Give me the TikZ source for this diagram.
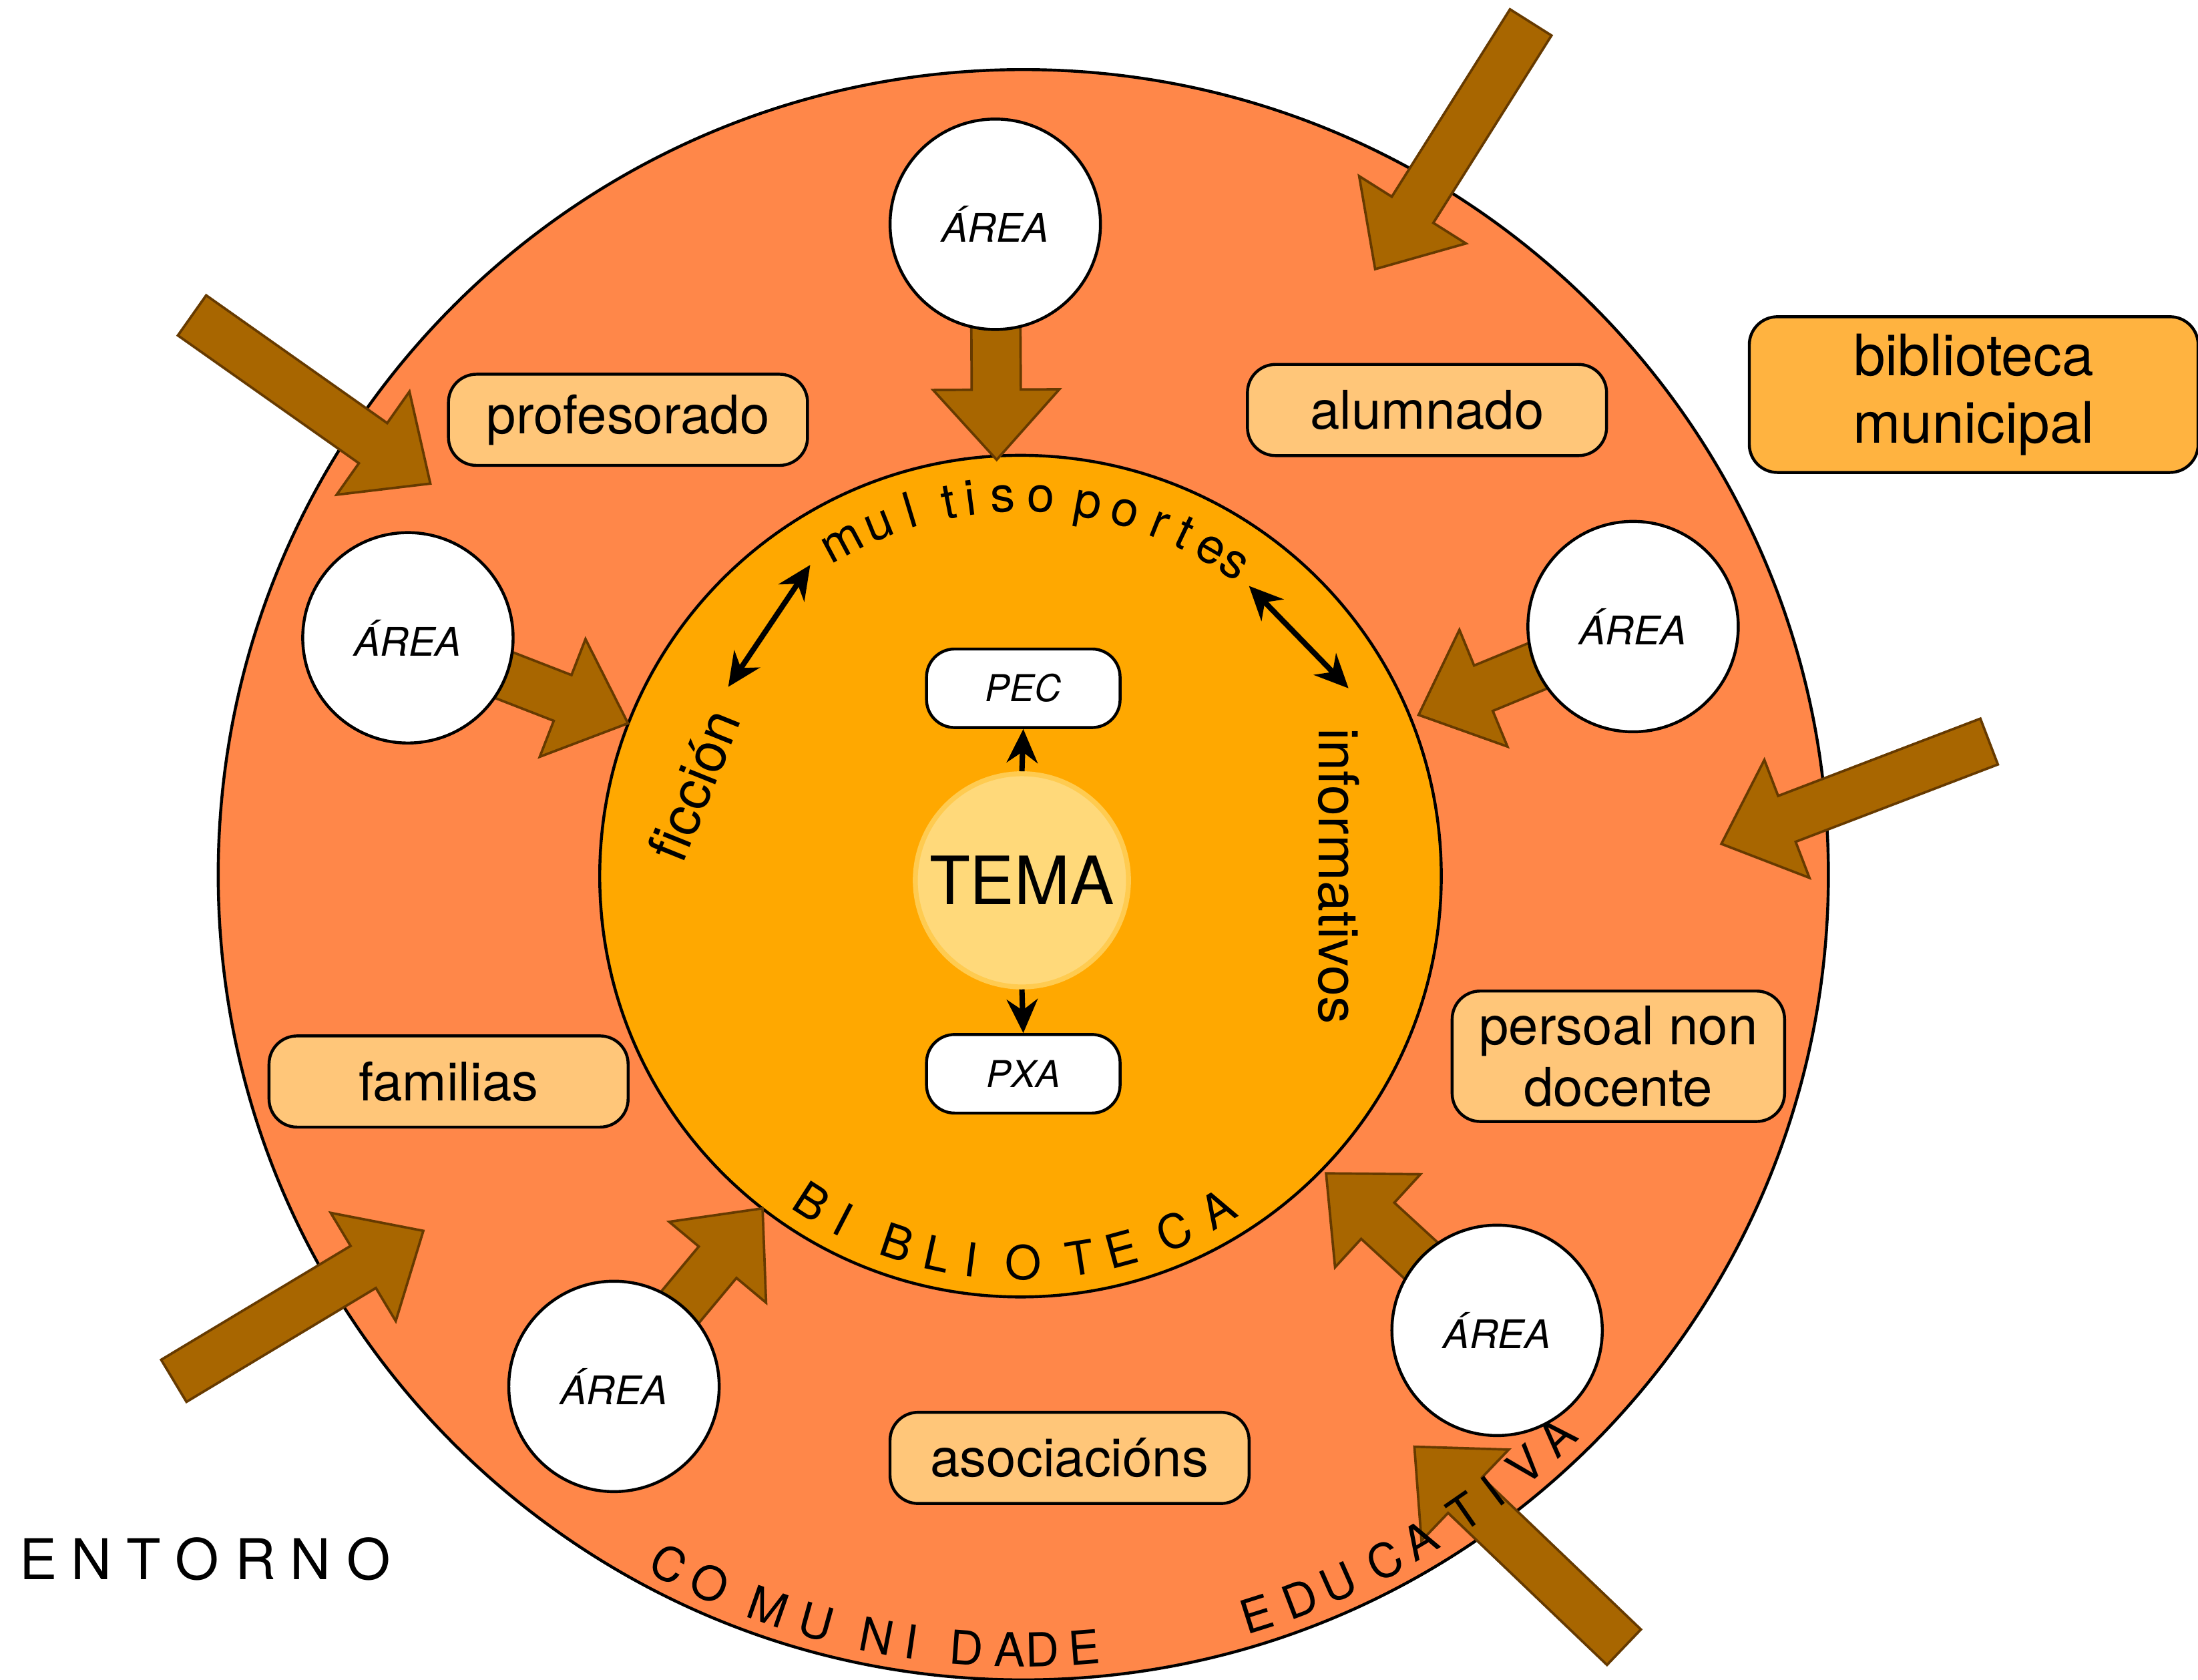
\documentclass[tikz,border=0pt]{standalone}
\usepackage{fontspec}
\setmainfont{TeX Gyre Heros}
\usetikzlibrary{calc,arrows.meta}

\definecolor{comunidadecor}{HTML}{FF8749}
\definecolor{bibliocor}{HTML}{FFA800}
\definecolor{temacor}{HTML}{FFD97A}
\definecolor{temaborde}{HTML}{FFCB50}
\definecolor{caixacor}{HTML}{FFC679}
\definecolor{municipalcor}{HTML}{FFB340}
\definecolor{frechacor}{HTML}{A86600}
\definecolor{frechaborde}{HTML}{663A00}

\pgfdeclarelayer{fondo}
\pgfdeclarelayer{frechas}
\pgfsetlayers{fondo,frechas,main}

% frecha grosa: #1 cola, #2 punta
\newcommand{\frecha}[2]{%
  \coordinate (fb) at ($(#2)!0.5cm!(#1)$);
  \draw[bloque] ($(#1)!0.175cm!90:(#2)$) -- ($(fb)!0.175cm!-90:(#1)$)
    -- ($(fb)!0.45cm!-90:(#1)$) -- (#2) -- ($(fb)!0.45cm!90:(#1)$)
    -- ($(fb)!0.175cm!90:(#1)$) -- ($(#1)!0.175cm!-90:(#2)$) -- cycle;
}

\begin{document}
\begin{tikzpicture}[x=0.01cm,y=0.01cm]
\tikzstyle{every node}=[inner sep=1pt]
\tikzstyle{area}=[circle, draw, line width=0.6pt, fill=white, minimum size=1.5cm, inner sep=0pt, font=\fontsize{8}{9}\selectfont\itshape]
\tikzstyle{axente}=[rectangle, rounded corners=0.2cm, draw, line width=0.6pt, fill=caixacor, minimum width=2.56cm, minimum height=0.65cm, align=center, font=\fontsize{10.8}{12.5}\selectfont]
\tikzstyle{documento}=[rectangle, rounded corners=0.2cm, draw, line width=0.6pt, fill=white, minimum width=1.38cm, minimum height=0.56cm, font=\fontsize{7.5}{9}\selectfont\itshape]
\tikzstyle{letra}=[inner sep=0pt, anchor=base, font=\fontsize{9.5}{10}\selectfont]
\tikzstyle{minuscula}=[inner sep=0pt, anchor=base, font=\fontsize{10}{11}\selectfont]
\tikzstyle{xenero}=[inner sep=0pt, font=\fontsize{11.2}{12}\selectfont]
\tikzstyle{bloque}=[fill=frechacor, draw=frechaborde, line width=0.5pt]
\tikzstyle{dobre}=[line width=1.1pt, {Stealth[length=2.4mm,width=2.2mm]}-{Stealth[length=2.4mm,width=2.2mm]}]
\tikzstyle{simple}=[line width=1.1pt, -{Stealth[length=2.4mm,width=2.2mm]}]
\useasboundingbox (0,0) rectangle (1568,1198);

\begin{pgfonlayer}{fondo}
\node (comunidade) at (730,574) [circle, draw, line width=0.6pt, fill=comunidadecor, minimum size=11.48cm, inner sep=0pt] {};
\node (biblioteca) at (728,573) [circle, draw, line width=0.6pt, fill=bibliocor, minimum size=6cm, inner sep=0pt] {};
\end{pgfonlayer}

\node (tema) at (729,570) [circle, draw=temaborde, line width=1pt, fill=temacor, minimum size=1.52cm, inner sep=0pt, font=\fontsize{13.5}{15}\selectfont] {TEMA};
\node (pec) at (730,707) [documento] {PEC};
\node (pxa) at (730,432) [documento] {PXA};
\draw[simple] (tema.north) -- (pec.south);
\draw[simple] (tema.south) -- (pxa.north);

\node (areaN) at (710,1038) [area] {ÁREA};
\node (areaO) at (291,743) [area] {ÁREA};
\node (areaL) at (1165,751) [area] {ÁREA};
\node (areaSO) at (438,209) [area] {ÁREA};
\node (areaSL) at (1068,249) [area] {ÁREA};

\node (profesorado) at (448,898.5) [axente] {profesorado};
\node (alumnado) at (1018,905.5) [axente] {alumnado};
\node (familias) at (320,426.5) [axente] {familias};
\node (asociacions) at (763,158) [axente] {asociacións};
\node (persoal) at (1154.5,444.5) [axente, minimum width=2.37cm, minimum height=0.93cm] {persoal non\\docente};
\node (municipal) at (1408,916.5) [axente, fill=municipalcor, minimum width=3.2cm, minimum height=1.11cm, font=\fontsize{11.6}{13.7}\selectfont] {biblioteca\\municipal};

\node (ficcion) at (495,638) [xenero, rotate=68] {ficción};
\node (informativos) at (955,573) [xenero, rotate=-90] {informativos};

\coordinate (fic) at (519.5,708);
\coordinate (mul1) at (578,795);
\coordinate (mul2) at (891,780);
\coordinate (inf) at (962,707);
\draw[dobre] (fic) -- (mul1);
\draw[dobre] (mul2) -- (inf);

\begin{scope}[shift={(728,573)}]
\draw (118.1:260) node (mu1) [minuscula, rotate=28.1] {m};
\draw (111.9:260) node (mu2) [minuscula, rotate=21.9] {u};
\draw (106.8:260) node (mu3) [minuscula, rotate=16.8] {l};
\draw (100.9:260) node (mu4) [minuscula, rotate=10.9] {t};
\draw (97.6:260) node (mu5) [minuscula, rotate=7.6] {i};
\draw (92.7:260) node (mu6) [minuscula, rotate=2.7] {s};
\draw (86.9:260) node (mu7) [minuscula, rotate=-3.1] {o};
\draw (79.7:260) node (mu8) [minuscula, rotate=-10.3] {p};
\draw (74.0:260) node (mu9) [minuscula, rotate=-16] {o};
\draw (68.4:260) node (mu10) [minuscula, rotate=-21.6] {r};
\draw (64.5:260) node (mu11) [minuscula, rotate=-25.5] {t};
\draw (59.8:260) node (mu12) [minuscula, rotate=-30.2] {e};
\draw (55.6:260) node (mu13) [minuscula, rotate=-34.4] {s};
\draw (-122.7:288) node (bi1) [letra, rotate=-32.7] {B};
\draw (-117.3:288) node (bi2) [letra, rotate=-27.3] {I};
\draw (-108.6:288) node (bi3) [letra, rotate=-18.6] {B};
\draw (-102.4:288) node (bi4) [letra, rotate=-12.4] {L};
\draw (-97.3:288) node (bi5) [letra, rotate=-7.3] {I};
\draw (-89.6:288) node (bi6) [letra, rotate=0.4] {O};
\draw (-81.1:288) node (bi7) [letra, rotate=8.9] {T};
\draw (-74.9:288) node (bi8) [letra, rotate=15.1] {E};
\draw (-66.6:288) node (bi9) [letra, rotate=23.4] {C};
\draw (-59.4:288) node (bi10) [letra, rotate=30.6] {A};
\end{scope}

\begin{scope}[shift={(730,574)}]
\draw (-117.2:565) node (co1) [letra, rotate=-27.2] {C};
\draw (-113.9:565) node (co2) [letra, rotate=-23.9] {O};
\draw (-109.2:565) node (co3) [letra, rotate=-19.2] {M};
\draw (-105.5:565) node (co4) [letra, rotate=-15.5] {U};
\draw (-100.9:565) node (co5) [letra, rotate=-10.9] {N};
\draw (-98.3:565) node (co6) [letra, rotate=-8.3] {I};
\draw (-94.2:565) node (co7) [letra, rotate=-4.2] {D};
\draw (-91.0:565) node (co8) [letra, rotate=-1] {A};
\draw (-88.6:565) node (co9) [letra, rotate=1.4] {D};
\draw (-85.5:565) node (co10) [letra, rotate=4.5] {E};
\draw (-72.5:565) node (ed1) [letra, rotate=17.5] {E};
\draw (-69.1:565) node (ed2) [letra, rotate=20.9] {D};
\draw (-66.0:565) node (ed3) [letra, rotate=24] {U};
\draw (-62.2:565) node (ed4) [letra, rotate=27.8] {C};
\draw (-59.2:565) node (ed5) [letra, rotate=30.8] {A};
\draw (-55.3:565) node (ed6) [letra, rotate=34.7] {T};
\draw (-52.7:565) node (ed7) [letra, rotate=37.3] {I};
\draw (-49.6:565) node (ed8) [letra, rotate=40.4] {V};
\draw (-46.5:565) node (ed9) [letra, rotate=43.5] {A};
\end{scope}

\node (en1) at (27.5,86) [font=\fontsize{11.4}{12}\selectfont] {E};
\node (en2) at (65,86) [font=\fontsize{11.4}{12}\selectfont] {N};
\node (en3) at (102.5,86) [font=\fontsize{11.4}{12}\selectfont] {T};
\node (en4) at (140.7,86) [font=\fontsize{11.4}{12}\selectfont] {O};
\node (en5) at (182.4,86) [font=\fontsize{11.4}{12}\selectfont] {R};
\node (en6) at (221.5,86) [font=\fontsize{11.4}{12}\selectfont] {N};
\node (en7) at (262.8,86) [font=\fontsize{11.4}{12}\selectfont] {O};

% frechas grosas
\coordinate (c1) at (1092,1182);
\coordinate (p1) at (981,1006);
\coordinate (c3) at (137,973);
\coordinate (p3) at (307,853);
\coordinate (c6) at (1419,669);
\coordinate (p6) at (1228,596);
\coordinate (c7) at (124,213);
\coordinate (p7) at (302,320);
\coordinate (c10) at (1158.5,23);
\coordinate (p10) at (1009,166);
\coordinate (pN) at (711,870);
\coordinate (pO) at (448,682);
\coordinate (pL) at (1012,688);
\coordinate (pSO) at (544,336);
\coordinate (pSL) at (946,361);

\begin{pgfonlayer}{frechas}
\frecha{c1}{p1}
\frecha{c3}{p3}
\frecha{c6}{p6}
\frecha{c7}{p7}
\frecha{c10}{p10}
\frecha{areaN.center}{pN}
\frecha{areaO.center}{pO}
\frecha{areaL.center}{pL}
\frecha{areaSO.center}{pSO}
\frecha{areaSL.center}{pSL}
\end{pgfonlayer}
\end{tikzpicture}
\end{document}
